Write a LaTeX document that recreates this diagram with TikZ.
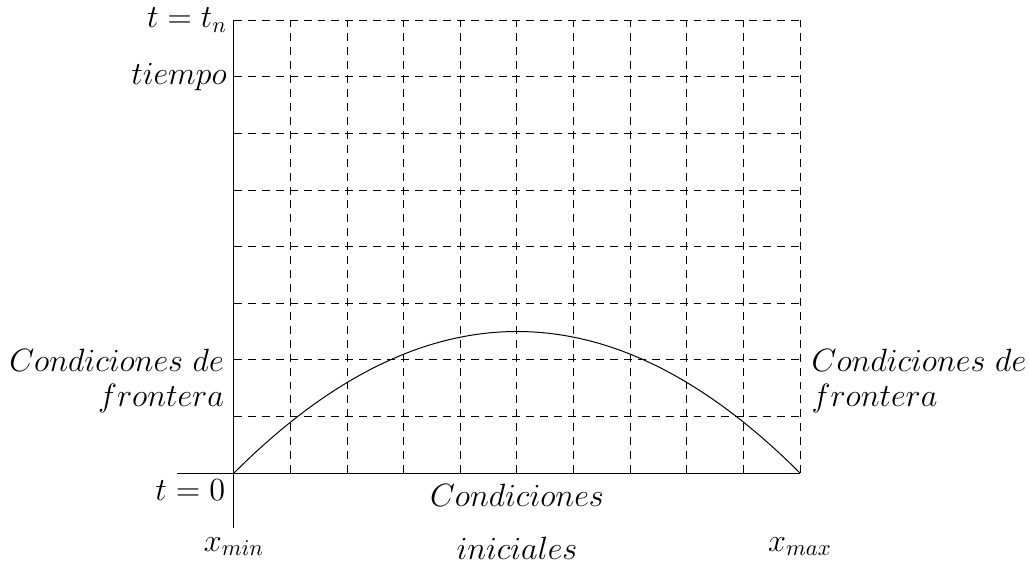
\documentclass[tikz,border=0pt]{standalone}
\usepackage{fix-cm}
\begin{document}
\begin{tikzpicture}[x=1cm,y=1cm,
  lbl/.style={inner sep=0pt,font=\fontsize{16.2}{17.6}\selectfont},
  grid line/.style={dash pattern=on 4pt off 3pt,line width=0.5pt},
  axis line/.style={line width=0.5pt}]
\useasboundingbox (-4.134,-1.696) rectangle (14.046,8.357);
% grid
\foreach \i in {1,...,10} \draw[grid line] (\i,0) -- (\i,8);
\foreach \j in {1,...,8} \draw[grid line] (0,\j) -- (10,\j);
% axes
\coordinate (hl) at (-1,0); \coordinate (hr) at (10,0);
\coordinate (vb) at (0,-0.97); \coordinate (vt) at (0,8);
\draw[axis line] (hl) -- (hr);
\draw[axis line] (vb) -- (vt);
% curve
\draw[line width=0.5pt,domain=0:10,samples=80] plot (\x,{0.1*\x*(10-\x)});
% labels
\node[lbl,anchor=east] (tn) at (-0.12,8) {$t=t_n$};
\node[lbl,anchor=east] (tiempo) at (-0.12,7) {$tiempo$};
\node[lbl,anchor=east] (t0) at (-0.15,-0.3) {$t=0$};
\node[lbl,anchor=north east,align=right] (cfl) at (-0.17,2.2) {$Condiciones\ de$\\$frontera$};
\node[lbl,anchor=north west,align=left] (cfr) at (10.2,2.2) {$Condiciones\ de$\\$frontera$};
\node[lbl] (ci) at (5,-0.39) {$Condiciones$};
\node[lbl] (ini) at (5,-1.33) {$iniciales$};
\node[lbl] (xmin) at (0,-1.3) {$x_{min}$};
\node[lbl] (xmax) at (10,-1.3) {$x_{max}$};
\end{tikzpicture}
\end{document}
